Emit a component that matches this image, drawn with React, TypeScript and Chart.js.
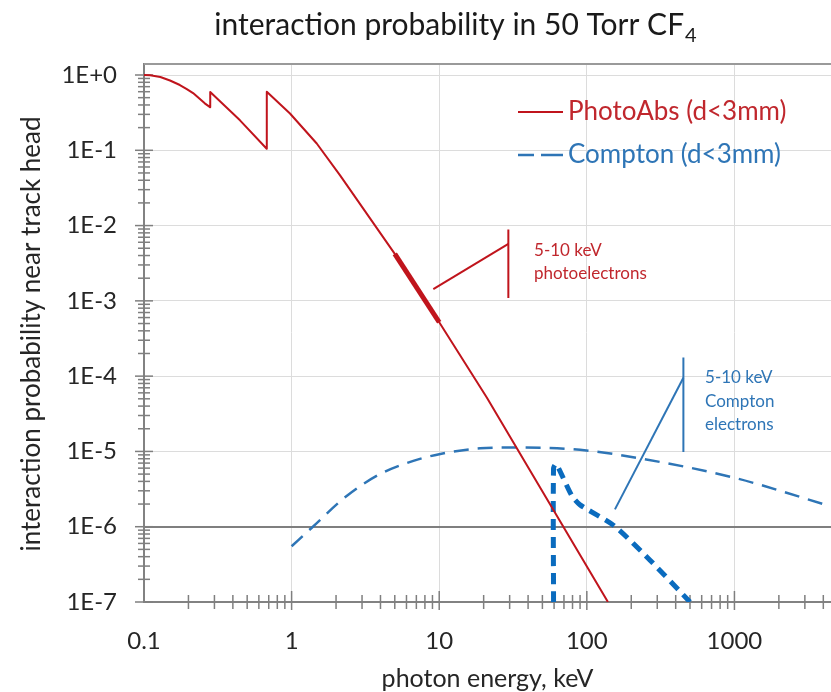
import React, { useEffect, useRef } from 'react';
import { Chart, registerables } from 'chart.js';

Chart.register(...registerables);

// ---------- data ----------
const photoAbsEnergy = [0.1, 0.11, 0.129, 0.15, 0.175, 0.195, 0.215, 0.258, 0.28, 0.281, 0.447, 0.678, 0.679, 0.975, 1.48, 2.13, 5, 10, 21, 139];
const photoAbsProb = [1.0, 0.99, 0.94, 0.845, 0.736, 0.65, 0.575, 0.42, 0.374, 0.593, 0.25, 0.105, 0.6, 0.308, 0.123, 0.0464, 4.2e-3, 5.2e-4, 5.2e-5, 1e-7];

const photoElectronEnergy = [5, 10];
const photoElectronProb = [4.2e-3, 5.2e-4];

const comptonEnergy = [1, 1.37, 2.36, 3.97, 6.68, 10, 18.9, 31.8, 90, 220, 984, 4450];
const comptonProb = [5.5e-7, 9.7e-7, 2.56e-6, 5.0e-6, 7.5e-6, 9.2e-6, 1.1e-5, 1.13e-5, 1.05e-5, 8.2e-6, 4.5e-6, 1.88e-6];

const comptonElectronEnergy = [59.5, 59.5, 62, 79, 90, 151, 254, 500];
const comptonElectronProb = [1e-7, 6.0e-6, 6.8e-6, 2.6e-6, 1.95e-6, 1.05e-6, 4.0e-7, 1e-7];

// annotation pointer lines
const photoNoteVertEnergy = [29.4, 29.4];
const photoNoteVertProb = [8.9e-3, 1.09e-3];
const photoNoteDiagEnergy = [9.12, 29.4];
const photoNoteDiagProb = [1.43e-3, 5.7e-3];
const comptonNoteVertEnergy = [451, 451];
const comptonNoteVertProb = [1.77e-4, 9.8e-6];
const comptonNoteDiagEnergy = [155, 451];
const comptonNoteDiagProb = [1.7e-6, 9.5e-5];

// annotation text anchors (energy, probability)
const photoNoteLines = ['5-10 keV', 'photoelectrons'];
const photoNoteEnergy = 43.9;
const photoNoteProb = [4.6e-3, 2.3e-3];
const comptonNoteLines = ['5-10 keV', 'Compton', 'electrons'];
const comptonNoteEnergy = 632;
const comptonNoteProb = [9.6e-5, 4.6e-5, 2.3e-5];

// axes
const xTickValues = [0.1, 1, 10, 100, 1000];
const xTickLabels = ['0.1', '1', '10', '100', '1000'];
const yTickValues = [1, 1e-1, 1e-2, 1e-3, 1e-4, 1e-5, 1e-6, 1e-7];
const yTickLabels = ['1E+0', '1E-1', '1E-2', '1E-3', '1E-4', '1E-5', '1E-6', '1E-7'];
const xMin = 0.1;
const xMax = 4510;
const yMin = 1e-7;
const yMax = 1.4;

const titleMain = 'interaction probability in 50 Torr CF';
const titleSub = '4';
const xTitle = 'photon energy, keV';
const yTitle = 'interaction probability near track head';
const legendLabels = ['PhotoAbs (d<3mm)', 'Compton (d<3mm)'];

const RED = '#C0141C';
const RED_TEXT = '#C0272D';
const BLUE = '#2E75B6';
const BLUE_THICK = '#0A6BBE';
const BLUE_TEXT = '#2E75B6';
const FONT = 'Lato, "Open Sans", sans-serif';

const pts = (xs: number[], ys: number[]) => xs.map((x, i) => ({ x, y: ys[i] }));

const decorPlugin = {
  id: 'decor',
  beforeDatasetsDraw(chart: any) {
    const { ctx, chartArea, scales } = chart;
    const xs = scales.x;
    const ys = scales.y;
    ctx.save();
    ctx.strokeStyle = '#9a9a9a';
    ctx.lineWidth = 2;
    ctx.beginPath();
    ctx.moveTo(chartArea.left, chartArea.top);
    ctx.lineTo(chartArea.right, chartArea.top);
    ctx.stroke();
    ctx.strokeStyle = '#7f7f7f';
    ctx.lineWidth = 1.5;
    const ax = chartArea.left;
    const ay = chartArea.bottom;
    for (let e = -7; e <= 0; e++) {
      const d = Math.pow(10, e);
      const py = ys.getPixelForValue(d);
      ctx.beginPath();
      ctx.moveTo(ax - 9, py);
      ctx.lineTo(ax + 9, py);
      ctx.stroke();
      if (e < 0) {
        for (let m = 2; m <= 9; m++) {
          const p = ys.getPixelForValue(m * d);
          ctx.beginPath();
          ctx.moveTo(ax - 6, p);
          ctx.lineTo(ax + 6, p);
          ctx.stroke();
        }
      }
    }
    for (let e = -1; e <= 3; e++) {
      const d = Math.pow(10, e);
      const px = xs.getPixelForValue(d);
      if (e > -1) {
        ctx.beginPath();
        ctx.moveTo(px, ay - 11);
        ctx.lineTo(px, ay + 8);
        ctx.stroke();
      }
      for (let m = 2; m <= 9; m++) {
        const v = m * d;
        if (v > xMax) break;
        const p = xs.getPixelForValue(v);
        ctx.beginPath();
        ctx.moveTo(p, ay - 7);
        ctx.lineTo(p, ay + 7);
        ctx.stroke();
      }
    }
    ctx.restore();
  },
  afterDraw(chart: any) {
    const { ctx, chartArea, scales } = chart;
    const xs = scales.x;
    const ys = scales.y;
    ctx.save();
    // title
    ctx.fillStyle = '#1a1a1a';
    ctx.textBaseline = 'alphabetic';
    ctx.font = `30px ${FONT}`;
    const wMain = ctx.measureText(titleMain).width;
    ctx.font = `20px ${FONT}`;
    const wSub = ctx.measureText(titleSub).width;
    const tx = 455 - (wMain + wSub) / 2;
    ctx.font = `30px ${FONT}`;
    ctx.textAlign = 'left';
    ctx.fillText(titleMain, tx, 35);
    ctx.font = `20px ${FONT}`;
    ctx.fillText(titleSub, tx + wMain + 1, 42);

    // axis titles
    ctx.font = `25px ${FONT}`;
    ctx.fillStyle = '#262626';
    ctx.textAlign = 'center';
    ctx.textBaseline = 'middle';
    ctx.fillText(xTitle, (chartArea.left + chartArea.right) / 2, 679);
    ctx.save();
    ctx.font = `26px ${FONT}`;
    ctx.translate(32, 334);
    ctx.rotate(-Math.PI / 2);
    ctx.fillText(yTitle, 0, 0);
    ctx.restore();

    // legend
    const lx0 = chartArea.left + 374;
    const lx1 = chartArea.left + 419;
    const ly0 = 112;
    const ly1 = 155;
    ctx.lineWidth = 2;
    ctx.strokeStyle = RED;
    ctx.beginPath();
    ctx.moveTo(lx0, ly0);
    ctx.lineTo(lx1, ly0);
    ctx.stroke();
    ctx.strokeStyle = BLUE;
    ctx.lineWidth = 2.5;
    ctx.beginPath();
    ctx.moveTo(lx0, ly1);
    ctx.lineTo(lx0 + 16, ly1);
    ctx.moveTo(lx0 + 23, ly1);
    ctx.lineTo(lx1, ly1);
    ctx.stroke();
    ctx.font = `26px ${FONT}`;
    ctx.textAlign = 'left';
    ctx.fillStyle = RED_TEXT;
    ctx.fillText(legendLabels[0], lx1 + 5, ly0);
    ctx.fillStyle = BLUE_TEXT;
    ctx.fillText(legendLabels[1], lx1 + 5, ly1);

    // annotation texts
    ctx.font = `17px ${FONT}`;
    ctx.fillStyle = RED_TEXT;
    photoNoteLines.forEach((t, i) => {
      ctx.fillText(t, xs.getPixelForValue(photoNoteEnergy), ys.getPixelForValue(photoNoteProb[i]));
    });
    ctx.fillStyle = BLUE_TEXT;
    comptonNoteLines.forEach((t, i) => {
      ctx.fillText(t, xs.getPixelForValue(comptonNoteEnergy), ys.getPixelForValue(comptonNoteProb[i]));
    });
    ctx.restore();
  },
};

export default function App() {
  const ref = useRef<HTMLCanvasElement>(null);
  useEffect(() => {
    document.body.style.margin = '0';
    const canvas = ref.current!;
    const lineDs = (label: string, data: any[], color: string, width: number, extra: any = {}) => ({
      label,
      data,
      borderColor: color,
      backgroundColor: color,
      borderWidth: width,
      pointRadius: 0,
      fill: false,
      tension: 0,
      ...extra,
    });
    const chart = new Chart(canvas, {
      type: 'line',
      data: {
        datasets: [
          lineDs('photoNoteVert', pts(photoNoteVertEnergy, photoNoteVertProb), RED, 2),
          lineDs('photoNoteDiag', pts(photoNoteDiagEnergy, photoNoteDiagProb), RED, 2),
          lineDs('comptonNoteVert', pts(comptonNoteVertEnergy, comptonNoteVertProb), BLUE, 2),
          lineDs('comptonNoteDiag', pts(comptonNoteDiagEnergy, comptonNoteDiagProb), BLUE, 2),
          lineDs('5-10 keV photoelectrons', pts(photoElectronEnergy, photoElectronProb), RED, 5),
          lineDs(legendLabels[0], pts(photoAbsEnergy, photoAbsProb), RED, 2, {
            borderJoinStyle: 'round',
          }),
          lineDs('5-10 keV Compton electrons', pts(comptonElectronEnergy, comptonElectronProb), BLUE_THICK, 5, {
            borderDash: [11, 7],
            tension: 0.25,
          }),
          lineDs(legendLabels[1], pts(comptonEnergy, comptonProb), BLUE, 2.5, {
            borderDash: [15, 9],
            cubicInterpolationMode: 'monotone',
          }),
        ],
      },
      options: {
        animation: false,
        responsive: false,
        layout: { padding: { top: 64, left: 0, right: 0, bottom: 0 } },
        plugins: {
          legend: { display: false },
          title: { display: false },
          tooltip: { enabled: false },
        },
        scales: {
          x: {
            type: 'logarithmic',
            min: xMin,
            max: xMax,
            afterBuildTicks: (s: any) => {
              s.ticks = xTickValues.map((v) => ({ value: v }));
            },
            afterFit: (s: any) => {
              s.height = 90;
            },
            ticks: {
              autoSkip: false,
              maxRotation: 0,
              padding: 25,
              color: '#262626',
              font: { family: FONT, size: 24 },
              callback: (_v: any, i: number) => xTickLabels[i],
            },
            grid: {
              drawTicks: false,
              color: (c: any) => (c.tick && c.tick.value <= xMin ? 'rgba(0,0,0,0)' : '#dcdcdc'),
              lineWidth: 1,
            },
            border: { color: '#828282', width: 2 },
          },
          y: {
            type: 'logarithmic',
            min: yMin,
            max: yMax,
            afterBuildTicks: (s: any) => {
              s.ticks = yTickValues.map((v) => ({ value: v }));
            },
            afterFit: (s: any) => {
              s.width = 144;
            },
            ticks: {
              autoSkip: false,
              padding: 27,
              color: '#262626',
              font: { family: FONT, size: 24 },
              callback: (_v: any, i: number) => yTickLabels[i],
            },
            grid: {
              drawTicks: false,
              color: (c: any) => {
                const v = c.tick ? c.tick.value : 0;
                if (v <= yMin * 1.01) return 'rgba(0,0,0,0)';
                if (Math.abs(v - 1e-6) < 1e-9) return '#7f7f7f';
                return '#dcdcdc';
              },
              lineWidth: (c: any) => (c.tick && Math.abs(c.tick.value - 1e-6) < 1e-9 ? 2 : 1),
            },
            border: { color: '#828282', width: 2 },
          },
        },
      },
      plugins: [decorPlugin],
    } as any);
    return () => chart.destroy();
  }, []);
  return (
    <div style={{ width: 831, height: 692, background: '#fff' }}>
      <canvas ref={ref} width={831} height={692} />
    </div>
  );
}
